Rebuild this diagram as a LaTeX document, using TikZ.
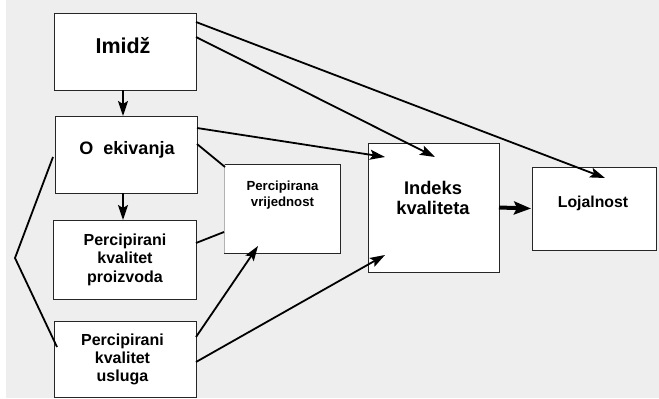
\documentclass[tikz,border=0pt]{standalone}
\usepackage{fontspec}
\setmainfont{Liberation Sans}
\usetikzlibrary{calc,arrows.meta}
\definecolor{panel}{HTML}{EEEEEE}
\newcommand{\stacklines}[1]{\begin{tabular}[t]{@{}c@{}}#1\end{tabular}}
\begin{document}
\begin{tikzpicture}[x=1pt,y=-1pt,
  box/.style={draw=black!85, line width=0.9pt, fill=white, inner sep=0pt, outer sep=0pt},
  size/.style 2 args={minimum width=#1, minimum height=#2},
  lbl/.style={anchor=base, inner sep=0pt, font=\bfseries},
  link/.style={line width=1.8pt},
  arr/.style={link, -{Stealth[length=15pt,width=10pt,inset=3pt]}},
  fatarr/.style={line width=4pt, -{Stealth[length=17pt,width=13pt,inset=3pt]}},
]
% canvas and panel
\useasboundingbox (0,0) rectangle (659,399);
\fill[white] (0,0) rectangle (659,399);
\fill[panel] (6,0) rectangle (659,398);

% boxes
\node[box, size={142}{77}] (imidz) at (125,51.5) {};
\node[box, size={142}{77}] (oek)   at (126,154.5) {};
\node[box, size={143}{79}] (pkp)   at (124.5,259.5) {};
\node[box, size={142}{76}] (pku)   at (125,359) {};
\node[box, draw=none, size={116}{89}] (pv) at (282,208.5) {};
\draw[black!85, line width=0.9pt] (pv.south west) -- (pv.south east) -- (pv.north east) -- (pv.north west);
\draw[black!30, line width=0.6pt] (pv.north west) -- (pv.south west);
\node[box, size={131}{129}] (ik) at (433.5,207.5) {};
\node[box, size={124}{83}]  (lj) at (594,208.5) {};

% labels
\node[lbl, font=\bfseries\fontsize{21.5}{24}\selectfont] (t-imidz) at (123,53) {Imidž};
\node[lbl, font=\bfseries\fontsize{18}{21}\selectfont] (t-oek) at (127,154) {O~~ekivanja};
\node[lbl, font=\bfseries\fontsize{16}{18.8}\selectfont] (t-pkp) at (125,245) {\stacklines{Percipirani\\kvalitet\\proizvoda}};
\node[lbl, font=\bfseries\fontsize{16}{18}\selectfont] (t-pku) at (122.5,345.5) {\stacklines{Percipirani\\kvalitet\\usluga}};
\node[lbl, font=\bfseries\fontsize{13.2}{16}\selectfont] (t-pv) at (282.5,190.5) {\stacklines{Percipirana\\vrijednost}};
\node[lbl, font=\bfseries\fontsize{18.3}{20.7}\selectfont] (t-ik) at (433,194) {\stacklines{Indeks\\kvaliteta}};
\node[lbl, font=\bfseries\fontsize{15.8}{18}\selectfont] (t-lj) at (593,207) {Lojalnost};

% vertical flow on the left
\draw[arr] ($(imidz.south)+(-2,0)$) -- ($(oek.north)+(-3,0)$);
\draw[arr] ($(oek.south)+(-3,0)$) -- ($(pkp.north)+(-1.5,0)$);

% links into the index and loyalty
\draw[arr] ($(imidz.north east)+(0,9)$)  -- ($(lj.north west)+(73,11)$);
\draw[arr] ($(imidz.north east)+(0,24)$) -- ($(ik.north west)+(67,14)$);
\draw[arr] ($(oek.north east)+(0,12)$)   -- ($(ik.north west)+(17,14)$);
\draw[arr] ($(pku.north east)+(0,41)$)   -- ($(ik.north west)+(17,112)$);
\draw[fatarr] (ik.east) -- ($(lj.west)+(-1,0)$);

% links into perceived value
\draw[link] ($(oek.north east)+(0,28)$) -- ($(pv.north west)+(1,3)$);
\draw[link] ($(pkp.north east)+(0,23)$) -- ($(pv.north west)+(0,68)$);
\draw[arr]  ($(pku.north east)+(0,16)$) -- ($(pv.north west)+(34,82)$);

% bracket joining expectations and service quality
\coordinate (apex) at (15,258);
\draw[link, line join=miter] ($(oek.south west)+(-2,-36)$) -- (apex) -- ($(pku.north west)+(3,26)$);
\end{tikzpicture}
\end{document}
